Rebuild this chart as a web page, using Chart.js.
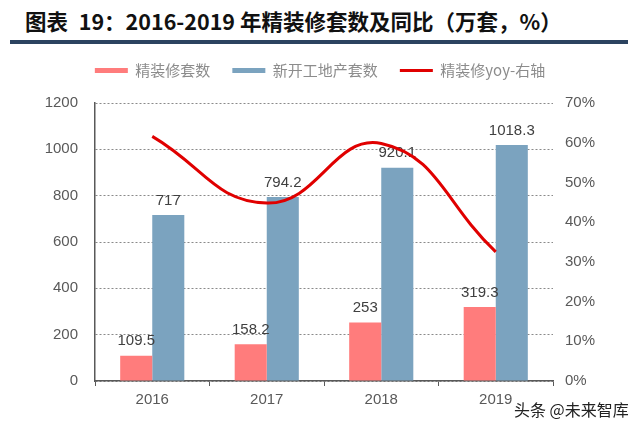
<!DOCTYPE html>
<html>
<head>
<meta charset="utf-8">
<script src="https://cdn.jsdelivr.net/npm/chart.js@4"></script>
<style>
  body { margin: 0; width: 640px; height: 424px; background: #fff; position: relative; overflow: hidden; }
  #title { position: absolute; left: 25px; top: 5px; font: bold 21.5px "Noto Sans CJK SC", sans-serif; color: #111; white-space: nowrap; }
  #rule { position: absolute; left: 10px; top: 40px; width: 618px; height: 4px; background: #2c4360; }
  #wrap { position: absolute; left: 0; top: 41px; width: 640px; height: 383px; }
  #mark { position: absolute; left: 514px; top: 397px; font: 16px "Noto Sans CJK SC", sans-serif; color: #222; text-shadow: 0 0 2px #fff, 0 0 2px #fff; }
</style>
</head>
<body>
<div id="title">图表&ensp;19：2016-2019 年精装修套数及同比（万套，%）</div>
<div id="rule"></div>
<div id="wrap"><canvas id="chart"></canvas></div>
<div id="mark">头条 @未来智库</div>
<script>
const years = ["2016", "2017", "2018", "2019"];
const decorated = [109.5, 158.2, 253, 319.3];
const newStarts = [717, 794.2, 920.1, 1018.3];
const decoratedYoy = [61.6, 44.8, 59.8, 32.5];

const tickFont = { family: "Liberation Sans, Arial, sans-serif", size: 15 };

// value labels above the bars
const barLabels = {
  id: "barLabels",
  afterDatasetDraw(chart, args) {
    const meta = args.meta;
    if (meta.type !== "bar") return;
    const ctx = chart.ctx;
    const data = chart.data.datasets[args.index].data;
    ctx.save();
    ctx.font = "15px Liberation Sans, Arial, sans-serif";
    ctx.fillStyle = "#404040";
    ctx.textAlign = "center";
    ctx.textBaseline = "bottom";
    meta.data.forEach((bar, i) => {
      ctx.fillText(String(data[i]), bar.x, bar.y - 7);
    });
    ctx.restore();
  }
};

// fixed legend height so the plot area starts where it should
const legendHeight = {
  id: "legendHeight",
  beforeInit(chart) {
    const lg = chart.legend;
    if (!lg) return;
    const fit = lg.fit;
    lg.fit = function () {
      fit.call(this);
      this.height = 62;
    };
  }
};

new Chart(document.getElementById("chart"), {
  data: {
    labels: years,
    datasets: [
      {
        type: "bar", label: "精装修套数", data: decorated, yAxisID: "y",
        backgroundColor: "#ff7c7c", barPercentage: 1, categoryPercentage: 0.56
      },
      {
        type: "bar", label: "新开工地产套数", data: newStarts, yAxisID: "y",
        backgroundColor: "#7ba3bf", barPercentage: 1, categoryPercentage: 0.56
      },
      {
        type: "line", label: "精装修yoy-右轴", data: decoratedYoy, yAxisID: "y1",
        borderColor: "#e00000", backgroundColor: "#e00000", borderWidth: 3,
        pointRadius: 0, tension: 0.45, pointStyle: "line", order: -1
      }
    ]
  },
  options: {
    responsive: true,
    maintainAspectRatio: false,
    animation: false,
    layout: { padding: 0 },
    plugins: {
      legend: {
        position: "top",
        labels: {
          usePointStyle: true,
          pointStyleWidth: 33,
          boxHeight: 5,
          padding: 22,
          color: "#8c8c8c",
          font: { family: "Noto Sans CJK SC, sans-serif", size: 15 },
          generateLabels(chart) {
            const items = Chart.defaults.plugins.legend.labels.generateLabels(chart);
            items.sort((a, b) => a.datasetIndex - b.datasetIndex);
            items.forEach(it => {
              if (it.datasetIndex === 2) {
                it.pointStyle = "line";
                it.lineWidth = 3;
              } else {
                it.pointStyle = "rect";
                it.lineWidth = 0;
              }
            });
            return items;
          }
        }
      },
      tooltip: { enabled: false }
    },
    scales: {
      x: {
        grid: { display: true, drawOnChartArea: false, tickLength: 5, color: "#595959" },
        border: { color: "#595959", width: 1.5 },
        ticks: { color: "#595959", font: tickFont, padding: 5 },
        afterFit(scale) { scale.height = 43; }
      },
      y: {
        position: "left",
        min: 0, max: 1200,
        ticks: { stepSize: 200, color: "#595959", font: tickFont, padding: 17, callback: v => String(v) },
        grid: { color: "#8a8a8a", drawTicks: false },
        border: { color: "#595959", width: 1.5, dash: [2, 2] },
        afterFit(scale) { scale.width = 95; }
      },
      y1: {
        position: "right",
        min: 0, max: 70,
        ticks: { stepSize: 10, color: "#595959", font: tickFont, padding: 12, callback: v => v + "%" },
        grid: { drawOnChartArea: false, drawTicks: false },
        border: { display: false },
        afterFit(scale) { scale.width = 87; }
      }
    }
  },
  plugins: [barLabels, legendHeight]
});
</script>
</body>
</html>
